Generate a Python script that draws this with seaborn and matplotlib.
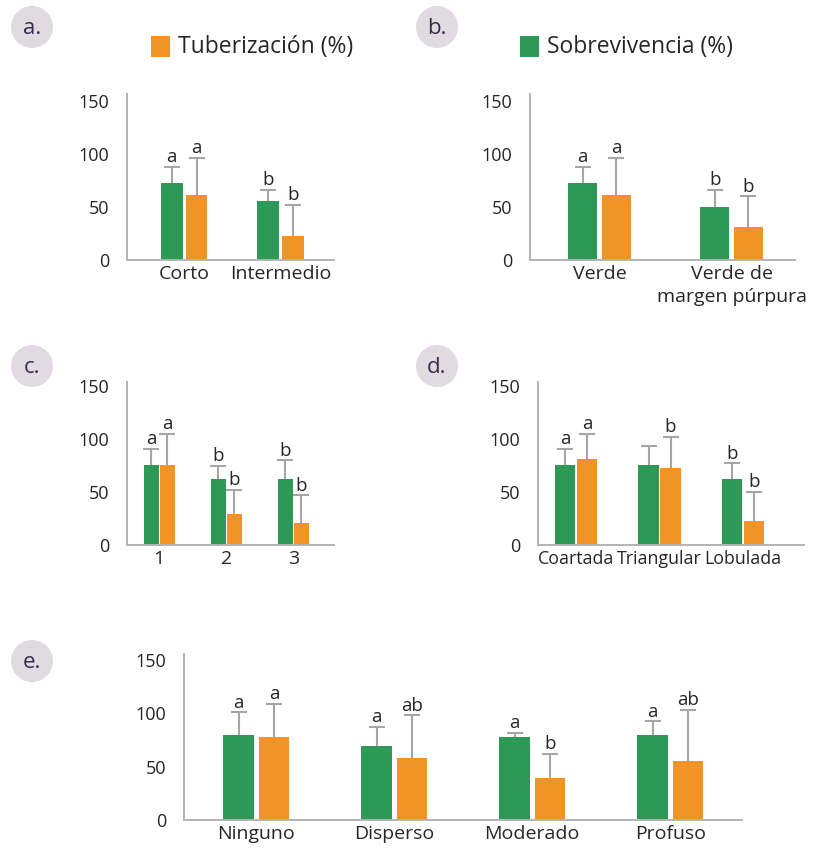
import matplotlib
matplotlib.use("Agg")
import matplotlib.pyplot as plt
from matplotlib.patches import Circle, Rectangle
import numpy as np
import pandas as pd
import seaborn as sns

# ---- data -------------------------------------------------------------
series_names = ["Sobrevivencia (%)", "Tuberización (%)"]

a_cats = ["Corto", "Intermedio"]
a_sobre = [73, 56]
a_sobre_err = [15, 10]
a_tuber = [61, 23]
a_tuber_err = [35, 29]
a_sobre_let = ["a", "b"]
a_tuber_let = ["a", "b"]

b_cats = ["Verde", "Verde de\nmargen púrpura"]
b_sobre = [73, 50]
b_sobre_err = [15, 16]
b_tuber = [61, 31]
b_tuber_err = [35, 29]
b_sobre_let = ["a", "b"]
b_tuber_let = ["a", "b"]

c_cats = ["1", "2", "3"]
c_sobre = [76, 62, 62]
c_sobre_err = [15, 12.5, 18]
c_tuber = [76, 29, 21]
c_tuber_err = [29, 23, 26]
c_sobre_let = ["a", "b", "b"]
c_tuber_let = ["a", "b", "b"]

d_cats = ["Coartada", "Triangular", "Lobulada"]
d_sobre = [76, 76, 62]
d_sobre_err = [15, 18, 15]
d_tuber = [81, 73, 23]
d_tuber_err = [24, 29, 27]
d_sobre_let = ["a", "", "b"]
d_tuber_let = ["a", "b", "b"]

e_cats = ["Ninguno", "Disperso", "Moderado", "Profuso"]
e_sobre = [80, 69, 77.5, 80]
e_sobre_err = [21, 18, 4.5, 12.5]
e_tuber = [77.5, 58, 39, 55.5]
e_tuber_err = [31.5, 40, 23, 48]
e_sobre_let = ["a", "a", "a", "a"]
e_tuber_let = ["a", "ab", "b", "ab"]

yticks = [0, 50, 100, 150]

# ---- style ------------------------------------------------------------
GREEN = "#2e9957"
ORANGE = "#f29325"
ERR = "#a6a6a6"
SPINE = "#b3b3b3"
TEXT = "#262626"

sns.set_style("white")
plt.rcParams["font.family"] = ["Open Sans", "DejaVu Sans"]

W, H = 814, 855
fig = plt.figure(figsize=(W / 100, H / 100), dpi=100)


def add_axes_px(left, right, zero, top):
    return fig.add_axes([left / W, 1 - zero / H, (right - left) / W, (zero - top) / H])


def panel(ax, cats, sobre, sobre_err, tuber, tuber_err, s_let, t_let,
          width, gap, xlim, ymax, xsize=14):
    df = pd.DataFrame({
        "cat": cats * 2,
        "serie": [series_names[0]] * len(cats) + [series_names[1]] * len(cats),
        "valor": list(sobre) + list(tuber),
    })
    sns.barplot(data=df, x="cat", y="valor", hue="serie", order=cats,
                hue_order=series_names, palette=[GREEN, ORANGE],
                width=width, gap=gap, errorbar=None, legend=False,
                saturation=1, linewidth=0, ax=ax)
    for cont, vals, errs, lets in zip(ax.containers,
                                      [sobre, tuber],
                                      [sobre_err, tuber_err],
                                      [s_let, t_let]):
        for p in cont.patches:
            p.set_zorder(2)
        xs = [p.get_x() + p.get_width() / 2 for p in cont.patches]
        eb = ax.errorbar(xs, vals, yerr=[np.zeros(len(vals)), errs], fmt="none",
                         ecolor=ERR, elinewidth=1.5, capsize=5.5, capthick=1.5,
                         zorder=1)
        # one-sided bars: keep only the upper cap
        eb[1][0].set_visible(False)
        for x, v, e, t in zip(xs, vals, errs, lets):
            if t:
                ax.annotate(t, (x, v + e), xytext=(0, 0.5),
                            textcoords="offset points", ha="center",
                            va="bottom", fontsize=13.5, color=TEXT)
    ax.set_xlim(*xlim)
    ax.set_ylim(0, ymax)
    ax.set_yticks(yticks)
    ax.set_xlabel("")
    ax.set_ylabel("")
    for s in ["top", "right"]:
        ax.spines[s].set_visible(False)
    for s in ["left", "bottom"]:
        ax.spines[s].set_color(SPINE)
        ax.spines[s].set_linewidth(1.4)
    ax.tick_params(axis="both", length=0, labelcolor=TEXT)
    ax.tick_params(axis="y", pad=13, labelsize=13)
    ax.tick_params(axis="x", pad=3.5, labelsize=xsize)
    for lab in ax.get_xticklabels():
        lab.set_linespacing(1.4)


ax_a = add_axes_px(127, 334, 260, 94)
panel(ax_a, a_cats, a_sobre, a_sobre_err, a_tuber, a_tuber_err,
      a_sobre_let, a_tuber_let, 0.515, 0.12, (-0.59, 1.55), 156.5)

ax_b = add_axes_px(530, 795, 260, 94)
panel(ax_b, b_cats, b_sobre, b_sobre_err, b_tuber, b_tuber_err,
      b_sobre_let, b_tuber_let, 0.51, 0.137, (-0.526, 1.48), 156.5)

ax_c = add_axes_px(127, 334, 545, 382)
panel(ax_c, c_cats, c_sobre, c_sobre_err, c_tuber, c_tuber_err,
      c_sobre_let, c_tuber_let, 0.48, 0.07, (-0.48, 2.61), 154)

ax_d = add_axes_px(538, 804, 545, 382)
panel(ax_d, d_cats, d_sobre, d_sobre_err, d_tuber, d_tuber_err,
      d_sobre_let, d_tuber_let, 0.523, 0.065, (-0.457, 2.73), 154, xsize=12.8)

ax_e = add_axes_px(184, 742, 820, 654)
panel(ax_e, e_cats, e_sobre, e_sobre_err, e_tuber, e_tuber_err,
      e_sobre_let, e_tuber_let, 0.511, 0.137, (-0.523, 3.52), 155.6)

# ---- panel tags -------------------------------------------------------
for tag, (cx, cy) in zip(["a.", "b.", "c.", "d.", "e."],
                         [(32, 27), (437, 27), (32, 366), (437, 366), (32, 661)]):
    fig.add_artist(Circle((cx / 100, (H - cy) / 100), 0.21,
                          transform=fig.dpi_scale_trans,
                          facecolor="#e0dbe0", edgecolor="none"))
    fig.text(cx / W, 1 - (cy + 1) / H, tag, ha="center", va="center",
             fontsize=16, color="#3a2a4c")

# ---- series keys ------------------------------------------------------
for (x0, label, color) in [(151, series_names[1], ORANGE),
                           (520, series_names[0], GREEN)]:
    fig.add_artist(Rectangle((x0 / 100, (H - 57) / 100), 0.19, 0.21,
                             transform=fig.dpi_scale_trans,
                             facecolor=color, edgecolor="none"))
    fig.text((x0 + 27) / W, 1 - 47 / H, label, ha="left", va="center",
             fontsize=16.5, color=TEXT)

fig.savefig("out.png", dpi=100)
